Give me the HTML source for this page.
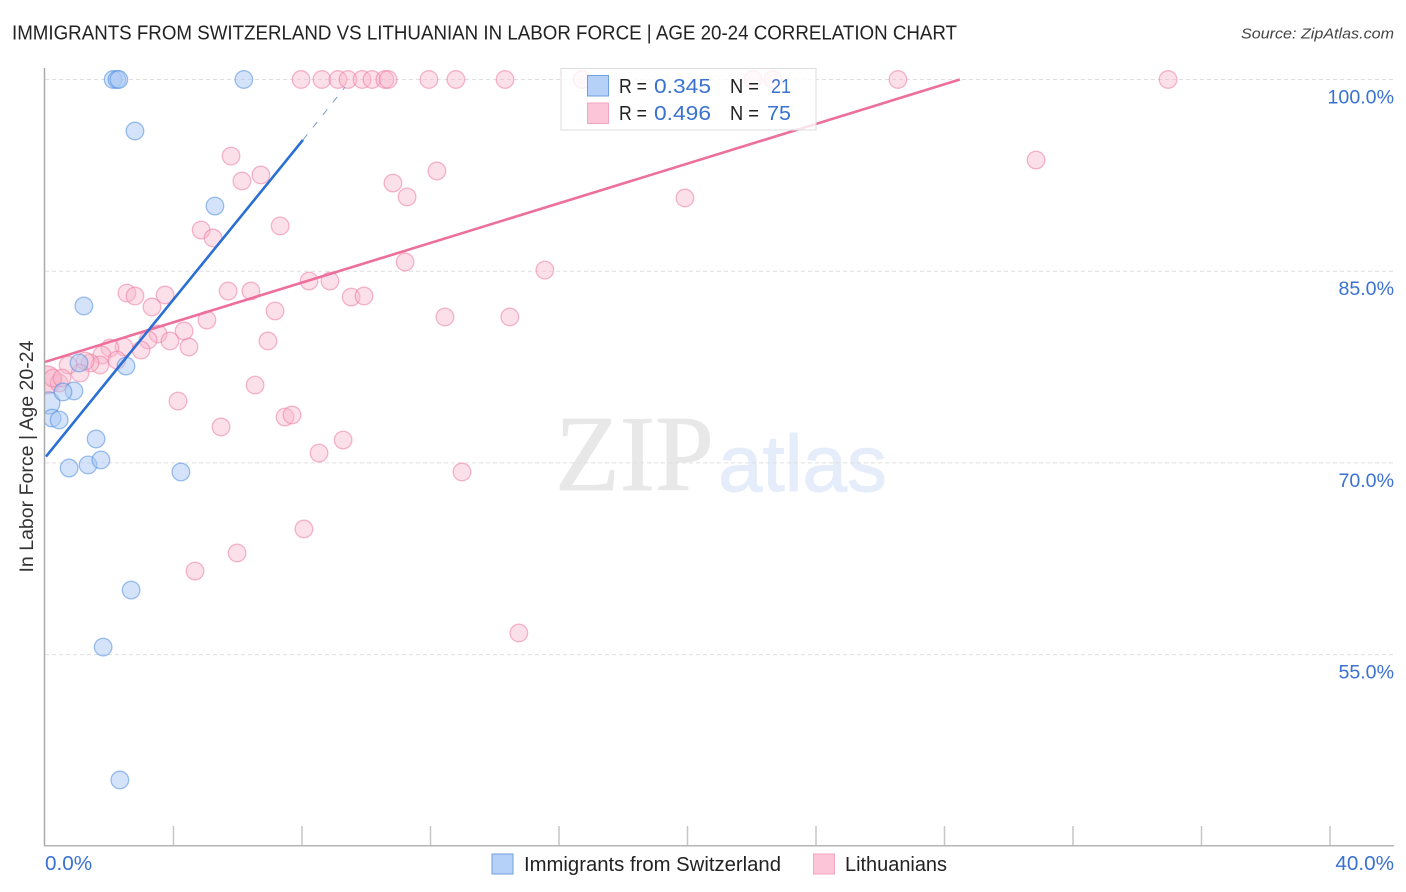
<!DOCTYPE html>
<html>
<head>
<meta charset="utf-8">
<title>Immigrants from Switzerland vs Lithuanian In Labor Force | Age 20-24 Correlation Chart</title>
<style>
html,body{margin:0;padding:0;background:#fff;}
svg{display:block;font-family:"Liberation Sans",sans-serif;}
</style>
</head>
<body>
<svg id="chart" width="1406" height="892" viewBox="0 0 1406 892" xmlns="http://www.w3.org/2000/svg">
  <defs>
    <clipPath id="plot-clip"><rect x="45" y="60" width="1349" height="786"></rect></clipPath>
  </defs>
  <text x="12" y="39.5" font-size="20" fill="#222" textLength="945" lengthAdjust="spacingAndGlyphs">IMMIGRANTS FROM SWITZERLAND VS LITHUANIAN IN LABOR FORCE | AGE 20-24 CORRELATION CHART</text>
  <text x="1394" y="38.5" font-size="15" font-style="italic" fill="#444" text-anchor="end" textLength="153" lengthAdjust="spacingAndGlyphs">Source: ZipAtlas.com</text>

  <g id="watermark">
    <text x="555" y="490" font-family="'Liberation Serif',serif" font-size="108" fill="#e8e8e8" stroke="#e8e8e8" stroke-width="0.8" textLength="159" lengthAdjust="spacingAndGlyphs">ZIP</text>
    <text x="718" y="491" font-size="80" fill="#e4edf9" stroke="#e4edf9" stroke-width="1" textLength="169" lengthAdjust="spacingAndGlyphs">atlas</text>
  </g>

  <g id="grid"></g>
  <g id="x-ticks"></g>
  <g id="points" clip-path="url(#plot-clip)"></g>
  <g id="trends"></g>

  <line x1="44.5" y1="68" x2="44.5" y2="846.5" stroke="#aaa" stroke-width="1.5"></line>
  <line x1="44" y1="845.8" x2="1394" y2="845.8" stroke="#b4b4b4" stroke-width="1.5"></line>

  <g id="y-labels"></g>
  <g id="x-labels"></g>
  <text transform="translate(33,456.5) rotate(-90)" font-size="19" fill="#333" text-anchor="middle" textLength="232" lengthAdjust="spacingAndGlyphs">In Labor Force | Age 20-24</text>

  <g>
    <rect x="561" y="68.5" width="255" height="61.5" fill="#fff" fill-opacity="0.8" stroke="#ddd" stroke-width="1"></rect>
    <rect x="587.5" y="75.5" width="21" height="20.5" fill="#b6d1f7" stroke="#6fa0dc" stroke-width="1"></rect>
    <rect x="587.5" y="103" width="21" height="20.5" fill="#fcc6d8" stroke="#f4a5bf" stroke-width="1"></rect>
    <text x="619" y="93" font-size="20" fill="#222" textLength="28" lengthAdjust="spacingAndGlyphs">R =</text>
    <text x="654" y="93" font-size="20" fill="#3a72d2" textLength="57" lengthAdjust="spacingAndGlyphs">0.345</text>
    <text x="730" y="93" font-size="20" fill="#222" textLength="29" lengthAdjust="spacingAndGlyphs">N =</text>
    <text x="771" y="93" font-size="20" fill="#3a72d2" textLength="20" lengthAdjust="spacingAndGlyphs">21</text>
    <text x="619" y="120" font-size="20" fill="#222" textLength="28" lengthAdjust="spacingAndGlyphs">R =</text>
    <text x="654" y="120" font-size="20" fill="#3a72d2" textLength="57" lengthAdjust="spacingAndGlyphs">0.496</text>
    <text x="730" y="120" font-size="20" fill="#222" textLength="29" lengthAdjust="spacingAndGlyphs">N =</text>
    <text x="767" y="120" font-size="20" fill="#3a72d2" textLength="24" lengthAdjust="spacingAndGlyphs">75</text>
  </g>

  <g>
    <rect x="492" y="854" width="21" height="20" fill="#b6d1f7" stroke="#6fa0dc" stroke-width="1"></rect>
    <text x="524" y="871" font-size="20" fill="#222" textLength="257" lengthAdjust="spacingAndGlyphs">Immigrants from Switzerland</text>
    <rect x="813.5" y="854" width="21" height="20" fill="#fcc6d8" stroke="#f4a5bf" stroke-width="1"></rect>
    <text x="845" y="871" font-size="20" fill="#222" textLength="102" lengthAdjust="spacingAndGlyphs">Lithuanians</text>
  </g>
</svg>

<script>
const yTicks = [100, 85, 70, 55];
const yTickLabels = ["100.0%", "85.0%", "70.0%", "55.0%"];
const xTicks = [4, 8, 12, 16, 20, 24, 28, 32, 36, 40];
const xEndTicks = [0, 40];
const xEndLabels = ["0.0%", "40.0%"];

const blueX = [2.12, 2.24, 2.30, 6.19, 2.80, 5.29, 1.21, 1.06, 2.52, 0.90, 0.56, 0.22, 0.44, 1.59, 0.75, 1.34, 1.74, 4.23, 2.68, 1.81, 2.33];
const blueY = [100, 100, 100, 100, 95.97, 90.10, 82.28, 77.82, 77.58, 75.63, 75.55, 73.51, 73.36, 71.87, 69.60, 69.84, 70.23, 69.29, 60.05, 55.59, 45.19];
const blueLargeX = [0.12];
const blueLargeY = [74.69];

const pinkX = [7.97, 8.62, 9.12, 9.43, 9.87, 10.18, 10.58, 10.68, 11.95, 12.79, 14.32, 16.72, 22.04, 22.66, 26.55, 34.96,
  5.79, 6.13, 6.72, 10.83, 11.27, 12.20, 19.92, 30.85, 4.86, 5.23, 7.32, 11.21, 15.56,
  2.55, 2.80, 3.74, 3.33, 5.70, 6.41, 8.22, 8.87, 9.53, 9.93, 7.16, 5.04, 12.45, 14.47,
  4.33, 3.52, 3.21, 3.89, 4.48, 6.94, 2.99, 2.46, 2.02, 1.77, 2.24, 1.71, 1.40, 1.25, 1.09, 0.72,
  0.44, 0.25, 0.53, 6.54, 4.14, 5.48, 7.47, 7.69, 9.28, 8.53, 12.98, 8.06, 5.98, 4.67, 14.75];
const pinkY = [100, 100, 100, 100, 100, 100, 100, 100, 100, 100, 100, 100, 100, 100, 100, 100,
  94.01, 92.06, 92.53, 91.90, 90.81, 92.84, 90.73, 93.70, 88.22, 87.60, 88.54, 85.72, 85.09,
  83.29, 83.06, 83.14, 82.20, 83.45, 83.45, 84.23, 84.23, 82.98, 83.06, 81.89, 81.18, 81.42, 81.42,
  80.32, 80.09, 79.62, 79.54, 79.07, 79.54, 78.83, 79.07, 78.99, 78.44, 78.05, 77.66, 77.82, 77.97, 77.03, 77.66,
  76.25, 76.64, 76.64, 76.09, 74.84, 72.81, 73.59, 73.75, 71.79, 70.77, 69.29, 64.83, 62.95, 61.54, 56.69];
const pinkLargeX = [0.06];
const pinkLargeY = [76.49];

const blueTrendSolidX = [0.03, 8.03];
const blueTrendSolidY = [70.5, 95.27];
const blueTrendDashX = [8.03, 9.34];
const blueTrendDashY = [95.27, 99.41];
const pinkTrendX = [0, 28.48];
const pinkTrendY = [77.9, 100];

const SVGNS = "http://www.w3.org/2000/svg";
function xScale(v) { return 45 + v * 32.125; }
function yScale(v) { return 79.5 + (100 - v) * 12.78; }
function make(tag, parentId) {
  const el = document.createElementNS(SVGNS, tag);
  document.getElementById(parentId).appendChild(el);
  return el;
}

yTicks.forEach(function (t, i) {
  const g = make("line", "grid");
  
  
  g.setAttribute("x1", 45);
  g.setAttribute("x2", 1394);
  g.setAttribute("y1", yScale(t));
  g.setAttribute("y2", yScale(t));
  g.setAttribute("stroke", "#dfdfdf");
  g.setAttribute("stroke-width", 1);
  g.setAttribute("stroke-dasharray", "4 3");

  const l = make("text", "y-labels");
  
  
  l.setAttribute("x", 1394);
  l.setAttribute("y", yScale(t) + 24);
  l.setAttribute("font-size", 19.6);
  l.setAttribute("fill", "#3a72d2");
  l.setAttribute("text-anchor", "end");
  l.textContent = yTickLabels[i];
});

xTicks.forEach(function (t) {
  const k = make("line", "x-ticks");
  
  
  k.setAttribute("x1", xScale(t));
  k.setAttribute("x2", xScale(t));
  k.setAttribute("y1", 826);
  k.setAttribute("y2", 846);
  k.setAttribute("stroke", "#c6c6c6");
  k.setAttribute("stroke-width", 1.5);
});

xEndTicks.forEach(function (t, i) {
  const l = make("text", "x-labels");
  
  
  l.setAttribute("x", i === 0 ? xScale(t) : 1394);
  l.setAttribute("y", 870);
  l.setAttribute("font-size", 20.7);
  l.setAttribute("fill", "#3a72d2");
  l.setAttribute("text-anchor", i === 0 ? "start" : "end");
  l.textContent = xEndLabels[i];
});

function drawPoints(xs, ys, radius, fill, stroke, fillOpacity, name) {
  xs.forEach(function (v, i) {
    const c = make("circle", "points");
    
    
    c.setAttribute("cx", xScale(v));
    c.setAttribute("cy", yScale(ys[i]));
    c.setAttribute("r", radius);
    c.setAttribute("fill", fill);
    c.setAttribute("fill-opacity", fillOpacity);
    c.setAttribute("stroke", stroke);
    c.setAttribute("stroke-opacity", 0.55);
    c.setAttribute("stroke-width", 1.3);
  });
}
drawPoints(pinkLargeX, pinkLargeY, 14, "#f7a3bf", "#ec7ba0", 0.5, "lithuanian-point");
drawPoints(blueLargeX, blueLargeY, 11, "#a9c8f3", "#4f8ee0", 0.5, "switzerland-point");
drawPoints(pinkX, pinkY, 8.8, "#f9b4ca", "#ec7ba0", 0.42, "lithuanian-point");
drawPoints(blueX, blueY, 8.8, "#a9c8f3", "#4f8ee0", 0.5, "switzerland-point");

function drawTrend(xs, ys, color, width, dash, name) {
  const t = make("line", "trends");
  
  
  t.setAttribute("x1", xScale(xs[0]));
  t.setAttribute("y1", yScale(ys[0]));
  t.setAttribute("x2", xScale(xs[1]));
  t.setAttribute("y2", yScale(ys[1]));
  t.setAttribute("stroke", color);
  t.setAttribute("stroke-width", width);
  if (dash) t.setAttribute("stroke-dasharray", dash);
}
drawTrend(pinkTrendX, pinkTrendY, "#ec6f9c", 2.6, null, "lithuanian-trend-line");
drawTrend(blueTrendSolidX, blueTrendSolidY, "#2a6fd4", 2.6, null, "switzerland-trend-line");
drawTrend(blueTrendDashX, blueTrendDashY, "#7f9cc8", 1, "7 9", "switzerland-trend-extension");
</script>
</body>
</html>
